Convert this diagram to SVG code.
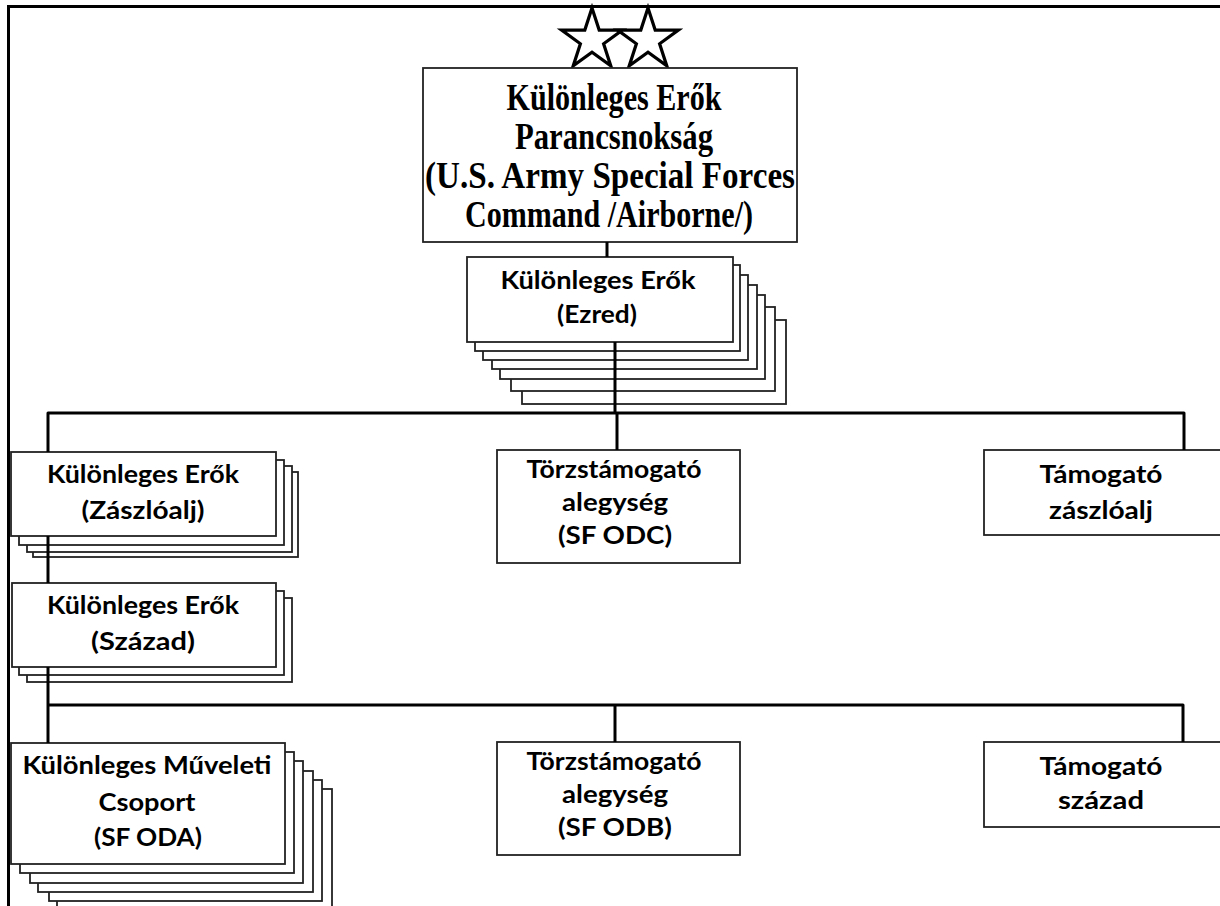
<svg xmlns="http://www.w3.org/2000/svg" width="1220" height="906" viewBox="0 0 1220 906">
<style>
.bg{fill:#fff}
.box{fill:#fff;stroke:#222;stroke-width:1.8}
.frame{fill:none;stroke:#000;stroke-width:3}
.con{fill:none;stroke:#000;stroke-width:3;stroke-linejoin:round}
.star{fill:#fff;stroke:#000;stroke-width:3.2;stroke-linejoin:miter}
.ser{font-family:"Liberation Serif","Times New Roman",serif;font-weight:bold;font-size:37px;fill:#000;text-anchor:middle}
.san{font-family:Lato,"Open Sans","Liberation Sans",sans-serif;font-weight:bold;font-size:24px;fill:#000;text-anchor:middle}
</style>
<rect class="bg" x="0" y="0" width="1220" height="906"/>
<path class="frame" d="M8.5 910 V6.5 H1222"/>

<g id="stars">
<polygon class="star" transform="translate(592,40)" points="0,-32 7.2,-9.9 30.4,-9.9 11.6,3.8 18.8,25.9 0,12.2 -18.8,25.9 -11.6,3.8 -30.4,-9.9 -7.2,-9.9"/>
<polygon class="star" transform="translate(648,40)" points="0,-32 7.2,-9.9 30.4,-9.9 11.6,3.8 18.8,25.9 0,12.2 -18.8,25.9 -11.6,3.8 -30.4,-9.9 -7.2,-9.9"/>
</g>

<g id="node-command">
<rect class="box" x="423" y="68" width="374" height="174"/>
<text class="ser" x="614" y="110" textLength="215" lengthAdjust="spacingAndGlyphs">Különleges Erők</text>
<text class="ser" x="614" y="149" textLength="198" lengthAdjust="spacingAndGlyphs">Parancsnokság</text>
<text class="ser" x="610" y="188" textLength="370" lengthAdjust="spacingAndGlyphs">(U.S. Army Special Forces</text>
<text class="ser" x="609" y="227" textLength="288" lengthAdjust="spacingAndGlyphs">Command /Airborne/)</text>
</g>

<g id="node-ezred">
<rect class="box" x="522" y="320" width="264" height="84"/>
<rect class="box" x="511" y="307" width="264" height="84"/>
<rect class="box" x="500" y="295" width="265" height="84"/>
<rect class="box" x="492" y="285" width="265" height="84"/>
<rect class="box" x="483" y="275" width="265" height="85"/>
<rect class="box" x="475" y="265" width="265" height="86"/>
<rect class="box" x="467" y="257" width="266" height="85"/>
<text class="san" x="598" y="289" textLength="195" lengthAdjust="spacingAndGlyphs">Különleges Erők</text>
<text class="san" x="597" y="323" textLength="80" lengthAdjust="spacingAndGlyphs">(Ezred)</text>
</g>

<g id="node-zaszloalj">
<rect class="box" x="33" y="472" width="265" height="85"/>
<rect class="box" x="27" y="466" width="265" height="86"/>
<rect class="box" x="19" y="460" width="265" height="85"/>
<rect class="box" x="11" y="452" width="265" height="84"/>
<text class="san" x="143" y="483" textLength="192" lengthAdjust="spacingAndGlyphs">Különleges Erők</text>
<text class="san" x="143" y="519" textLength="123" lengthAdjust="spacingAndGlyphs">(Zászlóalj)</text>
</g>

<g id="node-szazad">
<rect class="box" x="27" y="598" width="265" height="84"/>
<rect class="box" x="19" y="591" width="265" height="84"/>
<rect class="box" x="12" y="583" width="264" height="84"/>
<text class="san" x="143" y="614" textLength="192" lengthAdjust="spacingAndGlyphs">Különleges Erők</text>
<text class="san" x="143" y="650" textLength="104" lengthAdjust="spacingAndGlyphs">(Század)</text>
</g>

<g id="node-oda">
<rect class="box" x="57" y="789" width="275" height="121"/>
<rect class="box" x="49" y="780" width="273" height="121"/>
<rect class="box" x="38" y="771" width="275" height="121"/>
<rect class="box" x="30" y="761" width="273" height="122"/>
<rect class="box" x="20" y="752" width="274" height="121"/>
<rect class="box" x="11" y="743" width="274" height="121"/>
<text class="san" x="147" y="774" textLength="249" lengthAdjust="spacingAndGlyphs">Különleges Műveleti</text>
<text class="san" x="147" y="811" textLength="97" lengthAdjust="spacingAndGlyphs">Csoport</text>
<text class="san" x="148" y="846" textLength="108" lengthAdjust="spacingAndGlyphs">(SF ODA)</text>
</g>

<g id="node-odc">
<rect class="box" x="497" y="450" width="243" height="113"/>
<text class="san" x="614" y="478" textLength="175" lengthAdjust="spacingAndGlyphs">Törzstámogató</text>
<text class="san" x="615" y="511" textLength="106" lengthAdjust="spacingAndGlyphs">alegység</text>
<text class="san" x="615" y="544" textLength="114" lengthAdjust="spacingAndGlyphs">(SF ODC)</text>
</g>

<g id="node-tamogato-zaszloalj">
<rect class="box" x="984" y="450" width="240" height="85"/>
<text class="san" x="1101" y="483" textLength="123" lengthAdjust="spacingAndGlyphs">Támogató</text>
<text class="san" x="1101" y="519" textLength="104" lengthAdjust="spacingAndGlyphs">zászlóalj</text>
</g>

<g id="node-odb">
<rect class="box" x="497" y="742" width="243" height="113"/>
<text class="san" x="614" y="770" textLength="175" lengthAdjust="spacingAndGlyphs">Törzstámogató</text>
<text class="san" x="615" y="803" textLength="106" lengthAdjust="spacingAndGlyphs">alegység</text>
<text class="san" x="615" y="836" textLength="114" lengthAdjust="spacingAndGlyphs">(SF ODB)</text>
</g>

<g id="node-tamogato-szazad">
<rect class="box" x="984" y="742" width="240" height="85"/>
<text class="san" x="1101" y="775" textLength="123" lengthAdjust="spacingAndGlyphs">Támogató</text>
<text class="san" x="1101" y="809" textLength="86" lengthAdjust="spacingAndGlyphs">század</text>
</g>

<g id="connectors">
<path class="con" d="M607 242 V257"/>
<path class="con" d="M615 342 V413"/>
<path class="con" d="M48 452 V413 H1184 V450"/>
<path class="con" d="M617 413 V450"/>
<path class="con" d="M48 536 V583"/>
<path class="con" d="M48 667 V743"/>
<path class="con" d="M48 705 H1183 V742"/>
<path class="con" d="M615 705 V742"/>
</g>
</svg>
